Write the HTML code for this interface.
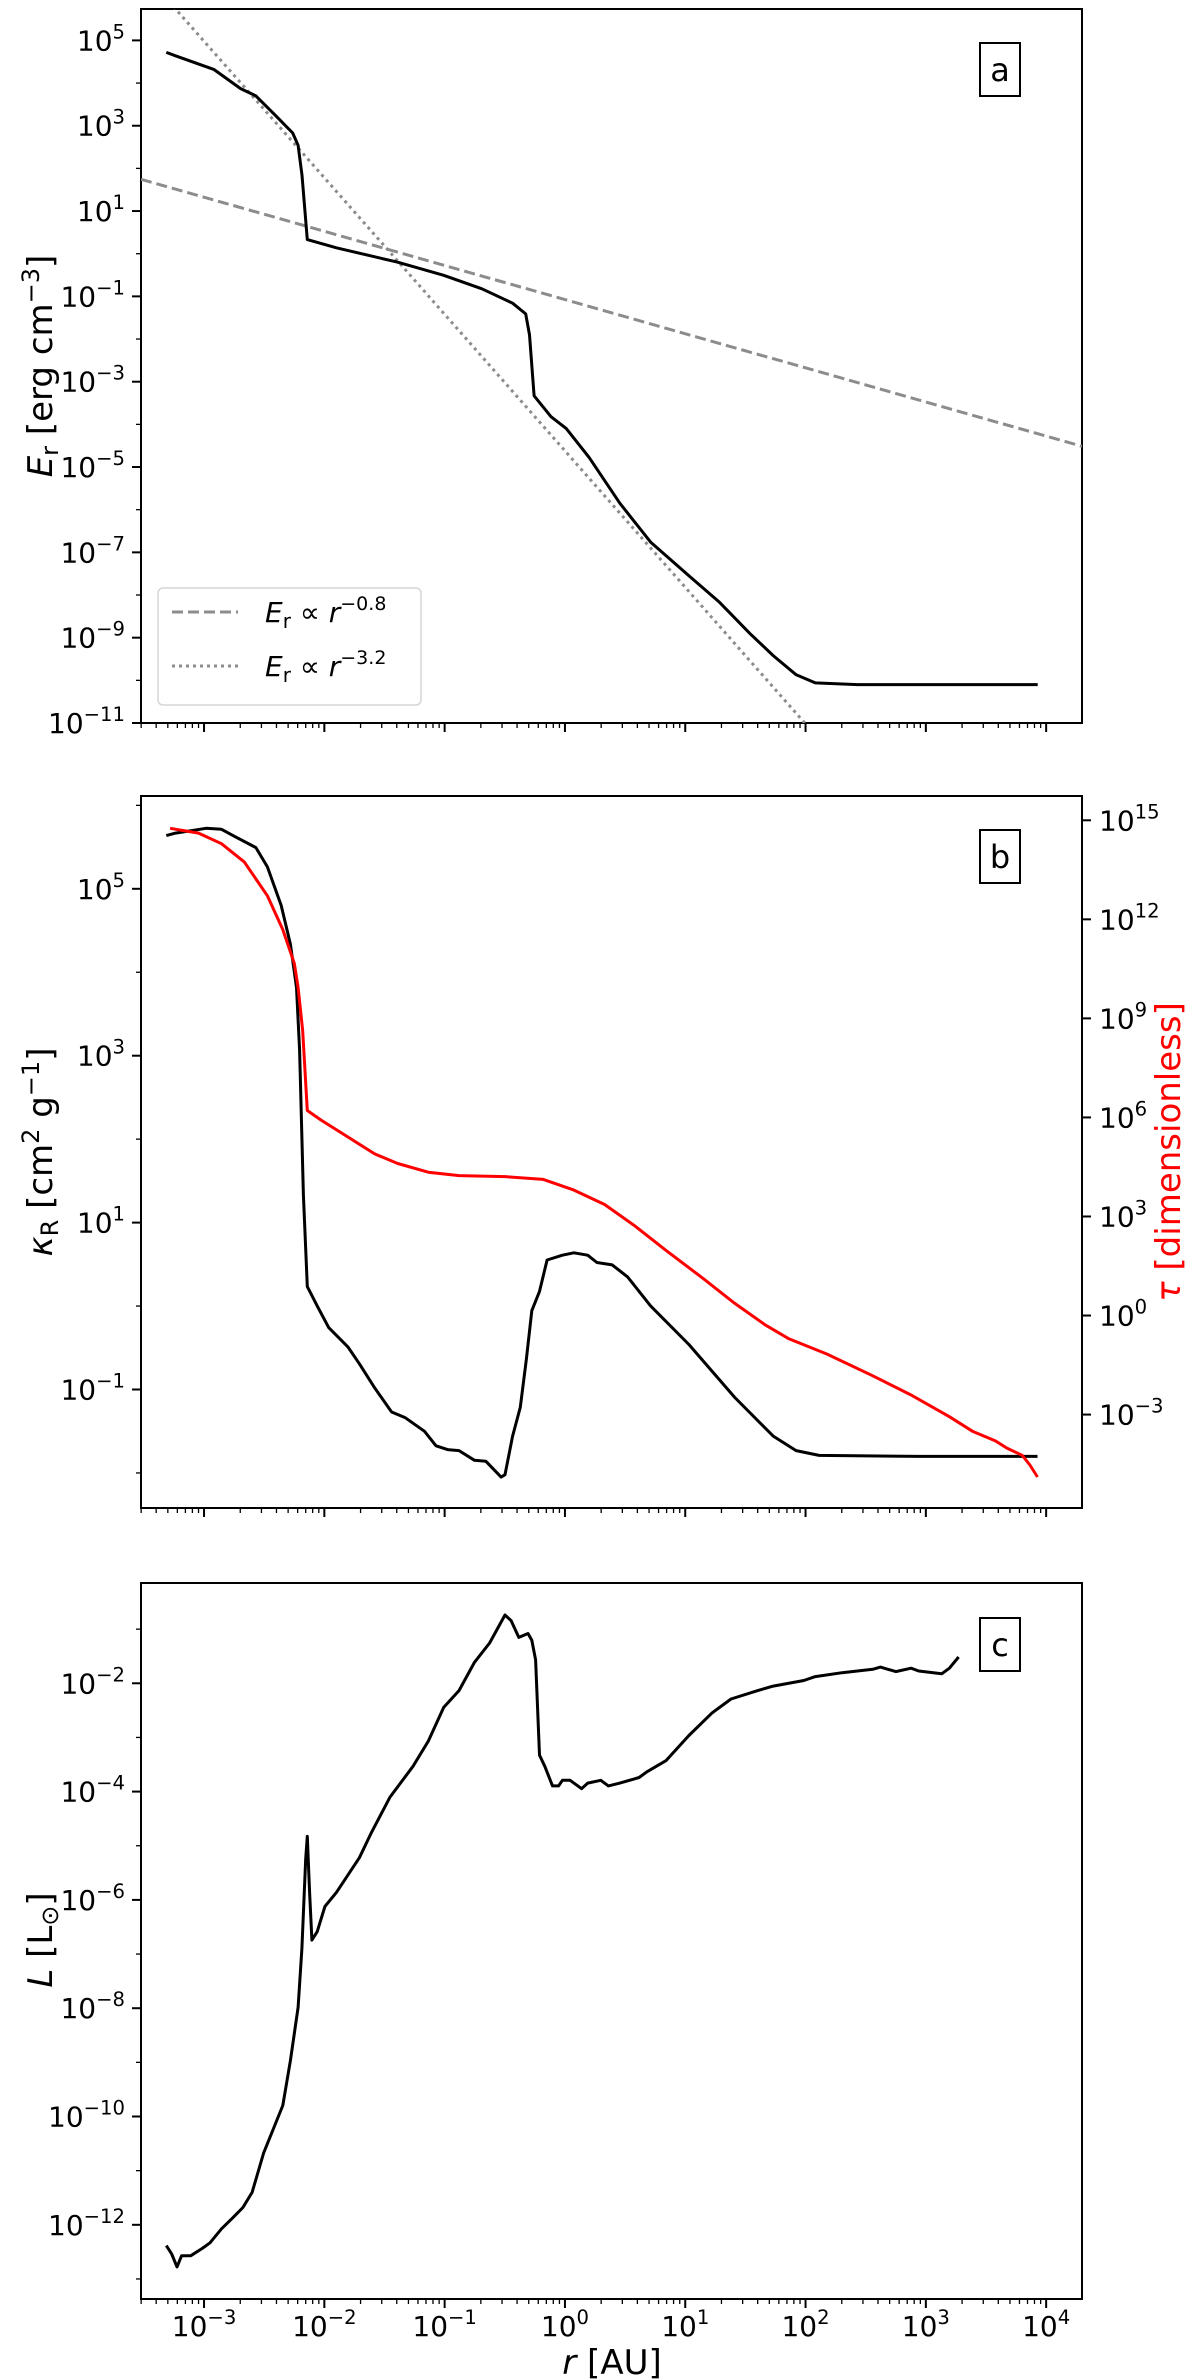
<!DOCTYPE html>
<html><head><meta charset="utf-8"><style>
html,body{margin:0;padding:0;background:#fff;}
svg{display:block;font-family:"DejaVu Sans","Liberation Sans",sans-serif;}
</style></head><body>
<svg id="fig" width="1200" height="2379" viewBox="0 0 1200 2379" xmlns="http://www.w3.org/2000/svg"></svg>
<script>
// ---- data (log10 values) ----
const erLogR = [-3.314,-3.237,-2.919,-2.696,-2.569,-2.409,-2.263,-2.218,-2.186,-2.142,-1.90,-1.39,-1.008,-0.690,-0.435,-0.326,-0.295,-0.256,-0.116,0.011,0.202,0.457,0.712,1.030,1.285,1.540,1.731,1.922,2.081,2.43,3.93];
const erLogE = [4.718,4.639,4.32,3.87,3.70,3.25,2.83,2.54,1.84,0.33,0.138,-0.20,-0.506,-0.823,-1.16,-1.41,-1.90,-3.33,-3.82,-4.10,-4.78,-5.85,-6.76,-7.55,-8.17,-8.91,-9.42,-9.87,-10.06,-10.10,-10.10];
const fitSlopes = [-0.8,-3.2];
const fitIntercepts = [-1.075,-4.62];

const kapZX = [218,230,270,290,305,335,350,368,380,388,392,397,402,415,430,455,470,490,512,530,555,570,585,600,620,635,655,660,670,680,688,695,705,715,735,750,768,780,800,820,850,900,960,1010,1040,1070,1200,1355];
const kapZY = [155,150,140,142,155,180,220,300,380,470,600,900,1090,1130,1175,1215,1250,1300,1350,1362,1390,1420,1428,1430,1450,1452,1485,1480,1400,1340,1240,1140,1100,1035,1025,1020,1025,1040,1045,1070,1130,1210,1320,1400,1430,1440,1442,1442];
const tauZX = [223,260,290,320,350,370,385,390,396,402,420,460,490,520,560,600,660,710,750,790,830,870,920,960,1000,1030,1080,1140,1190,1240,1270,1300,1315,1335,1345,1355];
const tauZY = [140,150,172,210,280,350,420,470,560,725,745,785,815,835,853,860,862,868,890,920,965,1015,1075,1125,1170,1198,1230,1275,1315,1360,1390,1410,1425,1440,1460,1485];

const lumZX = [218,225,232,238,250,265,275,290,305,318,330,345,370,380,390,395,400,402,405,408,415,425,440,470,485,510,540,560,580,600,620,640,660,668,678,690,695,700,705,712,722,730,735,745,760,768,785,795,810,835,845,870,900,930,955,990,1010,1050,1065,1100,1140,1150,1170,1190,1200,1230,1240,1252];
const lumZY = [1330,1345,1368,1348,1348,1335,1325,1300,1280,1262,1235,1165,1080,1000,905,800,640,600,700,785,770,725,700,638,595,530,475,430,370,340,290,255,205,215,245,238,250,285,455,475,510,510,500,500,515,505,500,510,505,495,485,465,420,380,355,340,332,322,315,308,302,298,306,300,305,310,300,280];

const kapLogR = kapZX.map(v=>-3.524+(v-185)/157);
const kapLog = kapZY.map(v=>6.112-(v-73)/173.0);
const tauLogR = tauZX.map(v=>-3.524+(v-185)/157);
const tauLog = tauZY.map(v=>15.736-(v-73)/68.45);
const lumLogR = lumZX.map(v=>-3.524+(v-185)/157);
const lumLog = lumZY.map(v=>-0.148-(v-148)/96.6);

// ---- layout ----
const svg=document.getElementById('fig');
const NS='http://www.w3.org/2000/svg';
const X0=141,X1=1082,XMIN=-3.524,XMAX=4.298;
function xs(l){return X0+(l-XMIN)/(XMAX-XMIN)*(X1-X0);}
function mk(tag,attrs,parent){const e=document.createElementNS(NS,tag);for(const k in attrs)e.setAttribute(k,attrs[k]);(parent||svg).appendChild(e);return e;}
function sup(parent,x,y,base,exp,anchor,color,fs){
  const t=mk('text',{x:x,y:y,'text-anchor':anchor,'font-size':fs||28,fill:color||'#000'},parent);
  const a=document.createElementNS(NS,'tspan');a.textContent=base;t.appendChild(a);
  const b=document.createElementNS(NS,'tspan');b.setAttribute('dy',-12);b.setAttribute('font-size',(fs||28)*0.7);b.textContent=exp;t.appendChild(b);
  return t;
}
function panel(name,top,bot,ymin,ymax,majors,minors,showX){
  const g=mk('g',{});
  
  
  const ys=l=>bot-(l-ymin)/(ymax-ymin)*(bot-top);
  const fr=mk('rect',{x:X0,y:top,width:X1-X0,height:bot-top,fill:'none',stroke:'#000','stroke-width':2},g);
  
  
  for(let d=-4;d<=4;d++){for(let m=1;m<10;m++){const l=d+Math.log10(m);if(l<XMIN||l>XMAX)continue;
    const x=xs(l);mk('line',{x1:x,x2:x,y1:bot,y2:bot+(m==1?9:5),stroke:'#000','stroke-width':m==1?2:1.3},g);
    if(m==1&&showX){const t=sup(g,x,bot+37,'10',String(d).replace('-','\u2212'),'middle');
      }}}
  majors.forEach(l=>{const y=ys(l);mk('line',{x1:X0-9,x2:X0,y1:y,y2:y,stroke:'#000','stroke-width':2},g);
    const t=sup(g,X0-16,y+10,'10',String(l).replace('-','\u2212'),'end');
    });
  minors.forEach(l=>{const y=ys(l);mk('line',{x1:X0-5,x2:X0,y1:y,y2:y,stroke:'#000','stroke-width':1.3},g);});
  return {g,ys};
}
function path(g,lx,ly,ys,attrs,name){
  let d='';for(let i=0;i<lx.length;i++){d+=(i?'L':'M')+xs(lx[i]).toFixed(1)+','+ys(ly[i]).toFixed(1);}
  const p=mk('path',Object.assign({d:d,fill:'none'},attrs),g);
  
  
  return p;
}
function labelBox(g,x,y,txt,name){
  const r=mk('rect',{x:x,y:y,width:40,height:53,fill:'#fff',stroke:'#000','stroke-width':2},g);
  const t=mk('text',{x:x+20,y:y+38,'text-anchor':'middle','font-size':32},g);t.textContent=txt;
  
  
}

// ---- panel a ----
const A=panel('panel-a',9,723,-11,5.736,[5,3,1,-1,-3,-5,-7,-9,-11],[4,2,0,-2,-4,-6,-8,-10],false);
const clipA=mk('clipPath',{id:'ca'});mk('rect',{x:X0,y:9,width:X1-X0,height:714},clipA);
const ga=mk('g',{'clip-path':'url(#ca)'},A.g);
const fx=[XMIN,XMAX];
path(ga,fx,fx.map(l=>fitIntercepts[0]+fitSlopes[0]*l),A.ys,{stroke:'#8c8c8c','stroke-width':3,'stroke-dasharray':'11,5'},'fit-line-r-0.8');
path(ga,fx,fx.map(l=>fitIntercepts[1]+fitSlopes[1]*l),A.ys,{stroke:'#8c8c8c','stroke-width':3,'stroke-dasharray':'3,4'},'fit-line-r-3.2');
path(ga,erLogR,erLogE,A.ys,{stroke:'#000','stroke-width':3,'stroke-linejoin':'round'},'er-curve');
labelBox(A.g,980,43,'a','panel-a-label');
const lg=mk('g',{},A.g);
mk('rect',{x:158,y:588,width:263,height:117,rx:5,fill:'#fff',stroke:'#d6d6d6','stroke-width':1.5},lg);
mk('line',{x1:172,x2:238,y1:612,y2:612,stroke:'#8c8c8c','stroke-width':3,'stroke-dasharray':'11,5'},lg);
mk('line',{x1:172,x2:238,y1:666,y2:666,stroke:'#8c8c8c','stroke-width':3,'stroke-dasharray':'3,4'},lg);
[['\u22120.8',622],['\u22123.2',676]].forEach(([e,y])=>{
  const t=mk('text',{x:265,y:y,'font-size':28},lg);
  t.innerHTML='<tspan font-style="italic">E</tspan><tspan font-size="20" dy="6">r</tspan><tspan dy="-6"> \u221d </tspan><tspan font-style="italic">r</tspan><tspan font-size="19" dy="-12">'+e+'</tspan>';
  
});
const yla=mk('text',{x:0,y:0,'font-size':34,'text-anchor':'middle',transform:'translate(52,366) rotate(-90)'});
yla.innerHTML='<tspan font-style="italic">E</tspan><tspan font-size="24" dy="6">r</tspan><tspan dy="-6"> [erg cm</tspan><tspan font-size="24" dy="-13">\u22123</tspan><tspan dy="13">]</tspan>';


// ---- panel b ----
const B=panel('panel-b',796,1508,-2.42,6.112,[5,3,1,-1],[6,4,2,0,-2],false);
const tys=l=>1508-(l+5.83)/(15.736+5.83)*(1508-796);
[15,12,9,6,3,0,-3].forEach(l=>{const y=tys(l);mk('line',{x1:X1,x2:X1+9,y1:y,y2:y,stroke:'#000','stroke-width':2},B.g);
  const t=sup(B.g,X1+17,y+10,'10',String(l).replace('-','\u2212'),'start');
  });
path(B.g,kapLogR,kapLog,B.ys,{stroke:'#000','stroke-width':3,'stroke-linejoin':'round'},'kappa-curve');
path(B.g,tauLogR,tauLog,tys,{stroke:'#ff0000','stroke-width':3,'stroke-linejoin':'round'},'tau-curve');
labelBox(B.g,980,830,'b','panel-b-label');
const ylb=mk('text',{x:0,y:0,'font-size':34,'text-anchor':'middle',transform:'translate(52,1152) rotate(-90)'});
ylb.innerHTML='<tspan font-style="italic">\u03ba</tspan><tspan font-size="24" dy="6">R</tspan><tspan dy="-6"> [cm</tspan><tspan font-size="24" dy="-13">2</tspan><tspan dy="13"> g</tspan><tspan font-size="24" dy="-13">\u22121</tspan><tspan dy="13">]</tspan>';

const yrb=mk('text',{x:0,y:0,'font-size':34,'text-anchor':'middle',fill:'#ff0000',transform:'translate(1180,1152) rotate(-90)'});
yrb.innerHTML='<tspan font-style="italic">\u03c4</tspan> [dimensionless]';


// ---- panel c ----
const C=panel('panel-c',1583,2299,-13.37,-0.148,[-2,-4,-6,-8,-10,-12],[-1,-3,-5,-7,-9,-11,-13],true);
path(C.g,lumLogR,lumLog,C.ys,{stroke:'#000','stroke-width':3,'stroke-linejoin':'round'},'luminosity-curve');
labelBox(C.g,980,1618,'c','panel-c-label');
const ylc=mk('text',{x:0,y:0,'font-size':34,'text-anchor':'middle',transform:'translate(52,1940) rotate(-90)'});
ylc.innerHTML='<tspan font-style="italic">L</tspan> [L<tspan font-size="24" dy="6">\u2299</tspan><tspan dy="-6">]</tspan>';

const xl=mk('text',{x:612,y:2374,'font-size':34,'text-anchor':'middle'});
xl.innerHTML='<tspan font-style="italic">r</tspan> [AU]';

</script>
</body></html>
